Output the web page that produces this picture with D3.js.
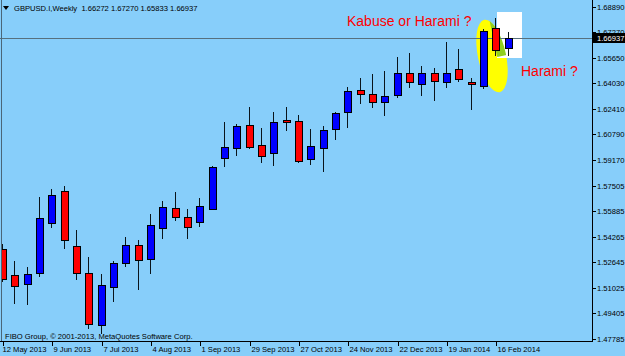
<!DOCTYPE html>
<html><head><meta charset="utf-8">
<script src="https://cdn.jsdelivr.net/npm/d3@7"></script>
<style>html,body{margin:0;padding:0;background:#87cefa;}svg{display:block;}</style>
</head><body>
<svg id="c" width="625" height="356"></svg>
<script>
const dates = ["2013-05-12","2013-05-19","2013-05-26","2013-06-02","2013-06-09","2013-06-16","2013-06-23","2013-06-30",
"2013-07-07","2013-07-14","2013-07-21","2013-07-28","2013-08-04","2013-08-11","2013-08-18","2013-08-25",
"2013-09-01","2013-09-08","2013-09-15","2013-09-22","2013-09-29","2013-10-06","2013-10-13","2013-10-20","2013-10-27",
"2013-11-03","2013-11-10","2013-11-17","2013-11-24","2013-12-01","2013-12-08","2013-12-15","2013-12-22","2013-12-29",
"2014-01-05","2014-01-12","2014-01-19","2014-01-26","2014-02-02","2014-02-09","2014-02-16","2014-02-23"];
const open  = [1.5348,1.5183,1.5126,1.5196,1.5514,1.5718,1.5367,1.5196,1.4864,1.5106,1.5259,1.5374,1.5285,1.5482,1.5609,1.5552,1.5520,1.5603,1.5928,1.5991,1.6138,1.6010,1.5960,1.6170,1.6163,1.5921,1.5991,1.6112,1.6221,1.6361,1.6335,1.6284,1.6329,1.6469,1.6399,1.6469,1.6412,1.6494,1.6412,1.6386,1.6755,1.66272];
const high  = [1.5380,1.5272,1.5234,1.5679,1.5730,1.5749,1.5469,1.5297,1.5189,1.5272,1.5425,1.5406,1.5571,1.5654,1.5711,1.5603,1.5673,1.5877,1.6157,1.6144,1.6252,1.6119,1.6221,1.6252,1.6201,1.6112,1.6131,1.6221,1.6380,1.6437,1.6462,1.6482,1.6571,1.6596,1.6513,1.6501,1.6666,1.6622,1.6437,1.6749,1.6819,1.67270];
const low   = [1.5145,1.5005,1.4998,1.5176,1.5488,1.5355,1.5157,1.4845,1.4814,1.5017,1.5240,1.5094,1.5196,1.5418,1.5533,1.5418,1.5495,1.5600,1.5877,1.5947,1.5991,1.5902,1.5883,1.6106,1.5902,1.5889,1.5845,1.6049,1.6125,1.6278,1.6252,1.6201,1.6316,1.6380,1.6329,1.6297,1.6380,1.6418,1.6240,1.6373,1.6583,1.65833];
const close = [1.5157,1.5113,1.5189,1.5546,1.5692,1.5406,1.5196,1.4871,1.5119,1.5259,1.5374,1.5278,1.5501,1.5616,1.5552,1.5488,1.5622,1.5870,1.5998,1.6131,1.5998,1.5940,1.6157,1.6157,1.5909,1.6004,1.6106,1.6214,1.6354,1.6335,1.6284,1.6322,1.6469,1.6412,1.6469,1.6418,1.6469,1.6431,1.6399,1.6736,1.6615,1.66937];
const priceTicks = [1.68890,1.67270,1.65650,1.64030,1.62410,1.60790,1.59170,1.57505,1.55885,1.54265,1.52645,1.51025,1.49405,1.47785];
const timeTickDates = ["2013-05-12","2013-06-09","2013-07-07","2013-08-04","2013-09-01","2013-09-29","2013-10-27","2013-11-24","2013-12-22","2014-01-19","2014-02-16"];
const timeTickLabels = ["12 May 2013","9 Jun 2013","7 Jul 2013","4 Aug 2013","1 Sep 2013","29 Sep 2013","27 Oct 2013","24 Nov 2013","22 Dec 2013","19 Jan 2014","16 Feb 2014"];
const bidPrice = 1.66937;
const titleText = "GBPUSD.I,Weekly  1.66272 1.67270 1.65833 1.66937";
const copyText = "FIBO Group, \u00a9 2001-2013, MetaQuotes Software Corp.";

const svg = d3.select("#c");
const W = 625, H = 356, plotR = 592, plotB = 341;
const x = d3.scalePoint().domain(dates).range([3, 508.6]);
const y = d3.scaleLinear().domain([1.47785, 1.68890]).range([338.5, 7]);
const font = "'Liberation Sans', Arial, sans-serif";

svg.append("rect").attr("width", W).attr("height", H).attr("fill", "#87cefa");

// annotation shapes (behind candles)
const ell = {cx: 492, cy: 56, rx: 14, ry: 37, rot: -12};
svg.append("ellipse").attr("cx", ell.cx).attr("cy", ell.cy).attr("rx", ell.rx).attr("ry", ell.ry)
  .attr("transform", `rotate(${ell.rot},${ell.cx},${ell.cy})`).attr("fill", "#ffff00");
svg.append("rect").attr("x", 497).attr("y", 12).attr("width", 25).attr("height", 46).attr("fill", "#ffffff");
svg.append("clipPath").attr("id", "wr").append("rect").attr("x", 497).attr("y", 12).attr("width", 25).attr("height", 46);
svg.append("ellipse").attr("clip-path", "url(#wr)").attr("cx", ell.cx).attr("cy", ell.cy).attr("rx", ell.rx).attr("ry", ell.ry)
  .attr("transform", `rotate(${ell.rot},${ell.cx},${ell.cy})`).attr("fill", "#8fcf1f");

// bid line
const by = Math.round(y(bidPrice)) + 0.5;
svg.append("line").attr("x1", 0).attr("x2", plotR).attr("y1", by).attr("y2", by).attr("stroke", "#56707e").attr("stroke-width", 1);

// candles
const data = dates.map((d, i) => ({d, o: open[i], h: high[i], l: low[i], c: close[i]}));
const g = svg.append("g").attr("clip-path", "url(#plotclip)");
svg.append("clipPath").attr("id", "plotclip").append("rect").attr("x", 1).attr("y", 0).attr("width", plotR - 1).attr("height", plotB);
data.forEach(k => {
  const cx = Math.round(x(k.d));
  g.append("line").attr("x1", cx - 0.5).attr("x2", cx - 0.5)
    .attr("y1", Math.round(y(k.h))).attr("y2", Math.round(y(k.l)) + 1)
    .attr("stroke", "#0a141a").attr("stroke-width", 1);
  const t = Math.round(y(Math.max(k.o, k.c))), b = Math.round(y(Math.min(k.o, k.c)));
  g.append("rect").attr("x", cx - 3.5).attr("y", t + 0.5).attr("width", 7).attr("height", Math.max(1, b - t))
    .attr("fill", k.c >= k.o ? "#0000ff" : "#ff0000").attr("stroke", "#000").attr("stroke-width", 1);
});

// frame
svg.append("line").attr("x1", 1.5).attr("x2", 1.5).attr("y1", 0).attr("y2", plotB).attr("stroke", "#4a6678");
svg.append("line").attr("x1", 0).attr("x2", plotR + 1).attr("y1", plotB + 0.5).attr("y2", plotB + 0.5).attr("stroke", "#000");
svg.append("line").attr("x1", plotR + 0.5).attr("x2", plotR + 0.5).attr("y1", 0).attr("y2", plotB + 1).attr("stroke", "#000");

// price axis
priceTicks.forEach(p => {
  const ty = Math.round(y(p)) + 0.5;
  svg.append("line").attr("x1", plotR).attr("x2", plotR + 4).attr("y1", ty).attr("y2", ty).attr("stroke", "#000");
  svg.append("text").attr("x", 597).attr("y", ty).attr("dy", "0.35em").attr("font-family", font).attr("font-size", 7.6)
    .attr("fill", "#000").text(p.toFixed(5));
});
// bid label
svg.append("rect").attr("x", 593).attr("y", by - 5.5).attr("width", 32).attr("height", 10).attr("fill", "#000");
svg.append("text").attr("x", 597).attr("y", by).attr("dy", "0.35em").attr("font-family", font).attr("font-size", 7.6)
  .attr("fill", "#fff").text(bidPrice.toFixed(5));

// time axis
timeTickDates.forEach((d, i) => {
  const tx = Math.round(x(d)) + 0.5;
  svg.append("line").attr("x1", tx).attr("x2", tx).attr("y1", plotB).attr("y2", plotB + 5).attr("stroke", "#000");
  svg.append("text").attr("x", tx + (i === 0 ? -1 : 1)).attr("y", 352).attr("font-family", font).attr("font-size", 7.6)
    .attr("fill", "#000").text(timeTickLabels[i]);
});

// title
svg.append("path").attr("d", "M3,6 L9,6 L6,10 Z").attr("fill", "#000");
svg.append("text").attr("x", 14).attr("y", 10.5).attr("font-family", font).attr("font-size", 7.6)
  .attr("fill", "#000").attr("xml:space", "preserve").style("white-space", "pre").text(titleText);
svg.append("text").attr("x", 5).attr("y", 339).attr("font-family", font).attr("font-size", 7.6)
  .attr("fill", "#000").text(copyText);

// annotations text
svg.append("text").attr("x", 347).attr("y", 26).attr("font-family", font).attr("font-size", 14)
  .attr("fill", "#ff0000").text("Kabuse or Harami ?");
svg.append("text").attr("x", 521).attr("y", 76).attr("font-family", font).attr("font-size", 14)
  .attr("fill", "#ff0000").text("Harami ?");
</script>
</body></html>
